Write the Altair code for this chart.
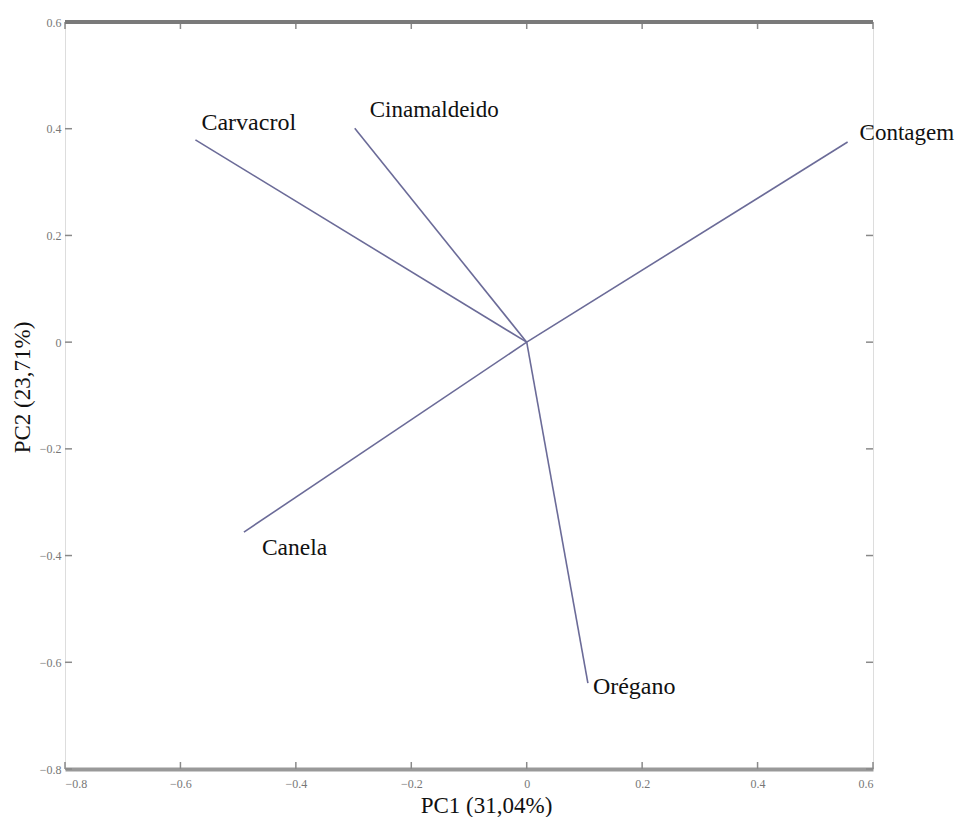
import altair as alt
import pandas as pd

# Loadings (PC1, PC2)
variables = ["Carvacrol", "Cinamaldeido", "Contagem", "Canela", "Orégano"]
pc1 = [-0.574, -0.298, 0.556, -0.490, 0.106]
pc2 = [0.379, 0.401, 0.375, -0.356, -0.639]
tick_values = [-0.8, -0.6, -0.4, -0.2, 0, 0.2, 0.4, 0.6]

W, H = 808, 747
line_color = "#6b6b98"
frame_color = "#8a8a8a"

df = pd.DataFrame({"var": variables, "pc1": pc1, "pc2": pc2, "x0": 0.0, "y0": 0.0})
ticks = pd.DataFrame({"t": tick_values})

xscale = alt.Scale(domain=[-0.8, 0.6], nice=False, zero=False)
yscale = alt.Scale(domain=[-0.8, 0.6], nice=False, zero=False)

label_expr = "datum.value == 0 ? '0' : format(datum.value, '.1f')"

x_axis = alt.Axis(
    title="PC1 (31,04%)", values=tick_values, labelExpr=label_expr, grid=False,
    ticks=False, domain=True, domainColor="#999999", domainWidth=4,
    labelFont="Liberation Sans Narrow", labelFontSize=12, labelColor="#777777",
    labelPadding=9, titleFont="Liberation Serif", titleFontSize=23,
    titleFontWeight="normal", titleColor="#111111", titlePadding=5,
    titleX=421,
)
y_axis = alt.Axis(
    title="PC2 (23,71%)", values=tick_values, labelExpr=label_expr, grid=False,
    ticks=False, domain=False, labelFont="Liberation Sans Narrow", labelFontSize=12,
    labelColor="#777777", labelPadding=4, titleFont="Liberation Serif",
    titleFontSize=23, titleFontWeight="normal", titleColor="#111111",
    titlePadding=5, titleY=365,
)

vectors = alt.Chart(df).mark_rule(color=line_color, strokeWidth=1.6).encode(
    x=alt.X("x0:Q", scale=xscale, axis=x_axis),
    y=alt.Y("y0:Q", scale=yscale, axis=y_axis),
    x2="pc1:Q",
    y2="pc2:Q",
)

offsets = {
    "Carvacrol": (6, -17),
    "Cinamaldeido": (15, -18),
    "Contagem": (12, -9),
    "Canela": (18, 16),
    "Orégano": (5, 4),
}
font_sizes = {"Carvacrol": 24, "Cinamaldeido": 23, "Contagem": 23, "Canela": 23.5, "Orégano": 24}

labels = []
for v in variables:
    dx, dy = offsets[v]
    labels.append(
        alt.Chart(df).transform_filter(alt.datum.var == v).mark_text(
            align="left", baseline="middle", dx=dx, dy=dy,
            font="Liberation Serif", fontSize=font_sizes[v], color="#111111",
        ).encode(x=alt.X("pc1:Q", scale=xscale), y=alt.Y("pc2:Q", scale=yscale), text="var:N")
    )

tick_style = dict(color="#8a8a8a", strokeWidth=1.5)
xt_bottom = alt.Chart(ticks).mark_rule(**tick_style).encode(
    x=alt.X("t:Q", scale=xscale), y=alt.value(H), y2=alt.value(H - 7))
xt_top = alt.Chart(ticks).mark_rule(**tick_style).encode(
    x=alt.X("t:Q", scale=xscale), y=alt.value(0), y2=alt.value(7))
yt_left = alt.Chart(ticks).mark_rule(**tick_style).encode(
    y=alt.Y("t:Q", scale=yscale), x=alt.value(0), x2=alt.value(7))
yt_right = alt.Chart(ticks).mark_rule(**tick_style).encode(
    y=alt.Y("t:Q", scale=yscale), x=alt.value(W), x2=alt.value(W - 7))
top_line = alt.Chart(ticks).mark_rule(color="#7a7a7a", strokeWidth=3).encode(
    x=alt.value(0), x2=alt.value(W), y=alt.value(0))

chart = alt.layer(vectors, xt_bottom, xt_top, yt_left, yt_right, top_line, *labels).properties(
    width=W, height=H,
    autosize=alt.AutoSizeParams(type="none"),
    padding={"left": 57, "top": 14, "right": 83, "bottom": 48},
).configure_view(
    stroke=frame_color, strokeWidth=2,
).configure(background="white")

chart.save("out.html", embed_options={"renderer": "svg", "actions": False})
